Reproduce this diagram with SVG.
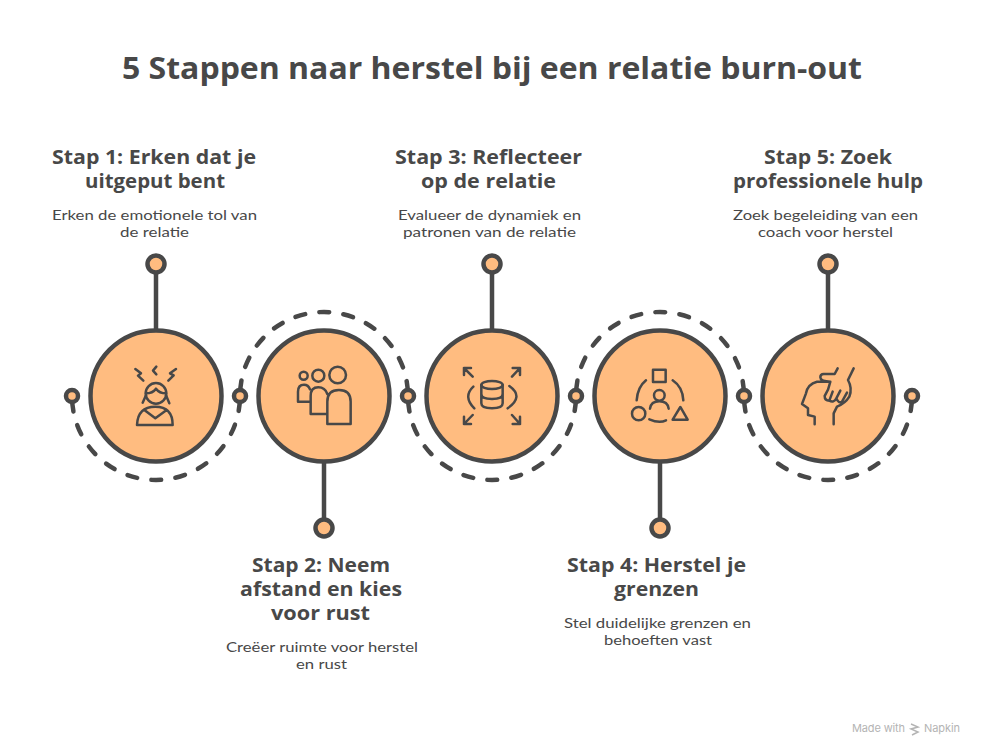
<svg xmlns="http://www.w3.org/2000/svg" width="984" height="756" viewBox="0 0 984 756">
<style>
text{font-family:"Open Sans","Noto Sans","Liberation Sans",sans-serif;fill:#484848;text-anchor:middle}
.t{font-size:30px;font-weight:700}
.h{font-size:19px;font-weight:700}
.d{font-family:"Lato","Liberation Sans",sans-serif;font-size:14px;font-weight:400}
.f{font-size:11px;fill:#b4b4b4;text-anchor:start;font-family:"Inter","Liberation Sans",sans-serif}
.c{fill:#ffbc80;stroke:#484848;stroke-width:4.5}
.l{fill:none;stroke:#484848;stroke-width:4.5;stroke-linecap:round}
.a{fill:none;stroke:#484848;stroke-width:4.5;stroke-linecap:round;stroke-dasharray:15.5 14.3 10 14.3 10 14.3 10 14.3 10 14.3 10 14.3 10 14.3 10 14.3 10 14.3 10 14.3 15.5 40}
.i{fill:none;stroke:#484848;stroke-width:7.5;stroke-linecap:round;stroke-linejoin:round}
</style>
<rect width="984" height="756" fill="#fff"/>
<text class="t" x="492" y="79" textLength="740" lengthAdjust="spacingAndGlyphs">5 Stappen naar herstel bij een relatie burn-out</text>
<g id="connectors">
<path class="a" d="M72,396A84,84 0 0 0 240,396"/>
<path class="a" d="M240,396A84,84 0 0 1 408,396"/>
<path class="a" d="M408,396A84,84 0 0 0 576,396"/>
<path class="a" d="M576,396A84,84 0 0 1 744,396"/>
<path class="a" d="M744,396A84,84 0 0 0 912,396"/>
<path class="l" d="M156,270V330M492,270V330M828,270V330M324,462V522M660,462V522"/>
<g class="c"><circle cx="72" cy="396" r="6"/><circle cx="240" cy="396" r="6"/><circle cx="408" cy="396" r="6"/><circle cx="576" cy="396" r="6"/><circle cx="744" cy="396" r="6"/><circle cx="912" cy="396" r="6"/><circle cx="156" cy="264" r="8.5"/><circle cx="492" cy="264" r="8.5"/><circle cx="828" cy="264" r="8.5"/><circle cx="324" cy="528" r="8.5"/><circle cx="660" cy="528" r="8.5"/></g>
</g>
<g id="step1">
<circle class="c" cx="156" cy="396" r="65.5"/>
<g transform="translate(126,360) scale(.3333)" class="i"><path d="M28,27L45,40L36,47L52,62M91,20L81,32L91,43M150,27L132,40L143,46L127,62"/><circle cx="90" cy="100" r="31"/><path d="M60,100Q80,100 90,86Q100,100 120,100M60,106L50,128M120,106L130,130M33,195Q35,140 88,140Q140,140 140,195ZM55,150L88,175L122,150"/></g>
<text class="h" x="154" y="164" textLength="204" lengthAdjust="spacingAndGlyphs">Stap 1: Erken dat je</text>
<text class="h" x="155" y="188" textLength="140" lengthAdjust="spacingAndGlyphs">uitgeput bent</text>
<text class="d" x="154.500" y="220" textLength="205" lengthAdjust="spacingAndGlyphs">Erken de emotionele tol van</text>
<text class="d" x="154.500" y="237" textLength="69" lengthAdjust="spacingAndGlyphs">de relatie</text>
</g>
<g id="step2">
<circle class="c" cx="324" cy="396" r="65.5"/>
<g transform="translate(290,360) scale(.3333)" class="i"><circle cx="41" cy="47" r="12"/><circle cx="85" cy="47" r="18"/><circle cx="143" cy="45" r="25"/><path d="M60,125H24V95Q24,74 42,74Q55,74 60,88M112,162H62V108Q62,82 85,82Q105,82 112,102M112,192V125Q112,90 147,90Q182,90 182,125V192Z"/></g>
<text class="h" x="321" y="572" textLength="138" lengthAdjust="spacingAndGlyphs">Stap 2: Neem</text>
<text class="h" x="321" y="596" textLength="162" lengthAdjust="spacingAndGlyphs">afstand en kies</text>
<text class="h" x="320.500" y="620" textLength="99" lengthAdjust="spacingAndGlyphs">voor rust</text>
<text class="d" x="322" y="652" textLength="192" lengthAdjust="spacingAndGlyphs">Creëer ruimte voor herstel</text>
<text class="d" x="321.500" y="669" textLength="51" lengthAdjust="spacingAndGlyphs">en rust</text>
</g>
<g id="step3">
<circle class="c" cx="492" cy="396" r="65.5"/>
<g transform="translate(456,360) scale(.3333)" class="i"><path d="M50,50L24,24M24,45V24H45M168,50L192,24M170,24H192V45M50,165L24,192M24,170V192H45M168,165L192,192M192,170V192H170M52,80Q20,110 55,145M160,78Q205,110 155,145M76,75V130Q76,145 108,145Q140,145 140,130V75M76,102Q76,117 108,117Q140,117 140,102"/><ellipse cx="108" cy="75" rx="32" ry="12"/></g>
<text class="h" x="488.500" y="164" textLength="187" lengthAdjust="spacingAndGlyphs">Stap 3: Reflecteer</text>
<text class="h" x="488.500" y="188" textLength="135" lengthAdjust="spacingAndGlyphs">op de relatie</text>
<text class="d" x="489.500" y="220" textLength="183" lengthAdjust="spacingAndGlyphs">Evalueer de dynamiek en</text>
<text class="d" x="489.500" y="237" textLength="173" lengthAdjust="spacingAndGlyphs">patronen van de relatie</text>
</g>
<g id="step4">
<circle class="c" cx="660" cy="396" r="65.5"/>
<g transform="translate(626,362) scale(.3333)" class="i"><rect x="81" y="23" width="38" height="37"/><path d="M32,115Q35,75 60,55M140,55Q170,75 172,115M70,172Q100,185 120,175M163,135L185,173H140ZM72,140Q75,118 100,118Q125,118 128,140"/><circle cx="38" cy="155" r="20"/><circle cx="100" cy="100" r="16"/></g>
<text class="h" x="656.500" y="572" textLength="179" lengthAdjust="spacingAndGlyphs">Stap 4: Herstel je</text>
<text class="h" x="656.500" y="596" textLength="85" lengthAdjust="spacingAndGlyphs">grenzen</text>
<text class="d" x="657.500" y="628" textLength="187" lengthAdjust="spacingAndGlyphs">Stel duidelijke grenzen en</text>
<text class="d" x="658" y="645" textLength="108" lengthAdjust="spacingAndGlyphs">behoeften vast</text>
</g>
<g id="step5">
<circle class="c" cx="828" cy="396" r="65.5"/>
<g transform="translate(792,360) scale(.3333)" class="i"><path d="M68,193V170L48,165V145L30,132L42,100Q47,72 75,65L112,65M137,25L128,42H95Q85,42 85,52Q85,64 115,65Q110,90 98,108Q98,122 112,122L122,95M112,122Q125,130 133,115L145,92M133,115Q140,132 150,125L165,98M185,25L168,60Q182,85 172,110Q160,130 135,140L125,160V193"/></g>
<text class="h" x="828" y="164" textLength="128" lengthAdjust="spacingAndGlyphs">Stap 5: Zoek</text>
<text class="h" x="828" y="188" textLength="190" lengthAdjust="spacingAndGlyphs">professionele hulp</text>
<text class="d" x="825.500" y="220" textLength="185" lengthAdjust="spacingAndGlyphs">Zoek begeleiding van een</text>
<text class="d" x="825.500" y="237" textLength="135" lengthAdjust="spacingAndGlyphs">coach voor herstel</text>
</g>
<g id="footer">
<text class="f" x="852" y="732" textLength="53">Made with</text>
<path d="M911,724L918,727L911,729L918,732L912,735" fill="none" stroke="#b4b4b4" stroke-width="1.5"/>
<text class="f" x="924" y="732" textLength="36">Napkin</text>
</g>
</svg>
